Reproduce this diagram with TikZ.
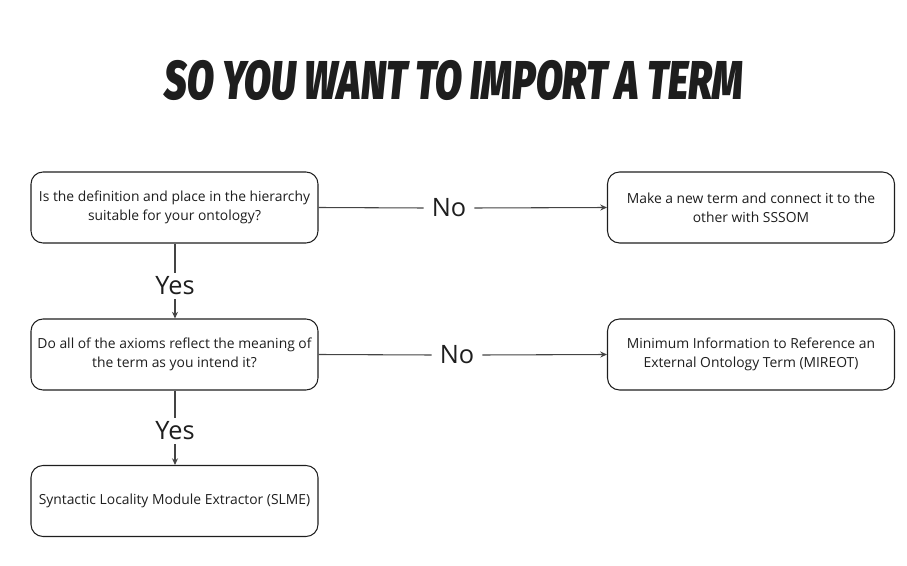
\documentclass[tikz,border=0pt]{standalone}
\usepackage{fontspec}
\setmainfont{Open Sans}
\newfontfamily\titlefont{Fira Sans}[BoldItalicFont={Fira Sans Black Italic}]
\usetikzlibrary{arrows.meta}
\definecolor{ink}{HTML}{1E1E1E}
\definecolor{wire}{HTML}{444444}
\begin{document}
\begin{tikzpicture}[x=0.75pt,y=-0.75pt,
  box/.style={draw=ink,line width=0.8pt,rounded corners=9pt,minimum width=287*0.75pt,minimum height=71*0.75pt,align=center,font=\fontsize{10.4pt}{14pt}\selectfont,text=ink,inner sep=0pt},
  lab/.style={font=\fontsize{19pt}{22pt}\selectfont,text=ink,inner xsep=6pt,inner ysep=3pt},
  wireline/.style={draw=wire,line width=0.8pt},
  arr/.style={wireline,-{Stealth[length=5pt,width=4.5pt]}}]
\useasboundingbox (0,0) rectangle (907,566);
\node[font=\titlefont\bfseries\itshape\fontsize{41pt}{44pt}\selectfont,text=ink] (title) at (454,80) {\scalebox{0.72}[1]{SO YOU WANT TO IMPORT A TERM}};
\node[box] (q1) at (174.5,207.5) {Is the definition and place in the hierarchy\\suitable for your ontology?};
\node[box] (r1) at (751,207.5) {Make a new term and connect it to the\\other with SSSOM};
\node[box] (q2) at (174.5,354.5) {Do all of the axioms reflect the meaning of\\the term as you intend it?};
\node[box] (r2) at (751,354.5) {Minimum Information to Reference an\\External Ontology Term (MIREOT)};
\node[box] (q3) at (174.5,501) {Syntactic Locality Module Extractor (SLME)};
\node[lab] (no1) at (449,208) {No};
\node[lab] (no2) at (457,355) {No};
\node[lab] (yes1) at (175,286) {Yes};
\node[lab] (yes2) at (175,431) {Yes};
\draw[wireline] (q1.east) -- (no1.west);
\draw[arr] (no1.east) -- (r1.west);
\draw[wireline] (q2.east) -- (no2.west);
\draw[arr] (no2.east) -- (r2.west);
\draw[wireline] (q1.south -| yes1) -- (yes1.north);
\draw[arr] (yes1.south) -- (q2.north -| yes1);
\draw[wireline] (q2.south -| yes2) -- (yes2.north);
\draw[arr] (yes2.south) -- (q3.north -| yes2);
\end{tikzpicture}
\end{document}
